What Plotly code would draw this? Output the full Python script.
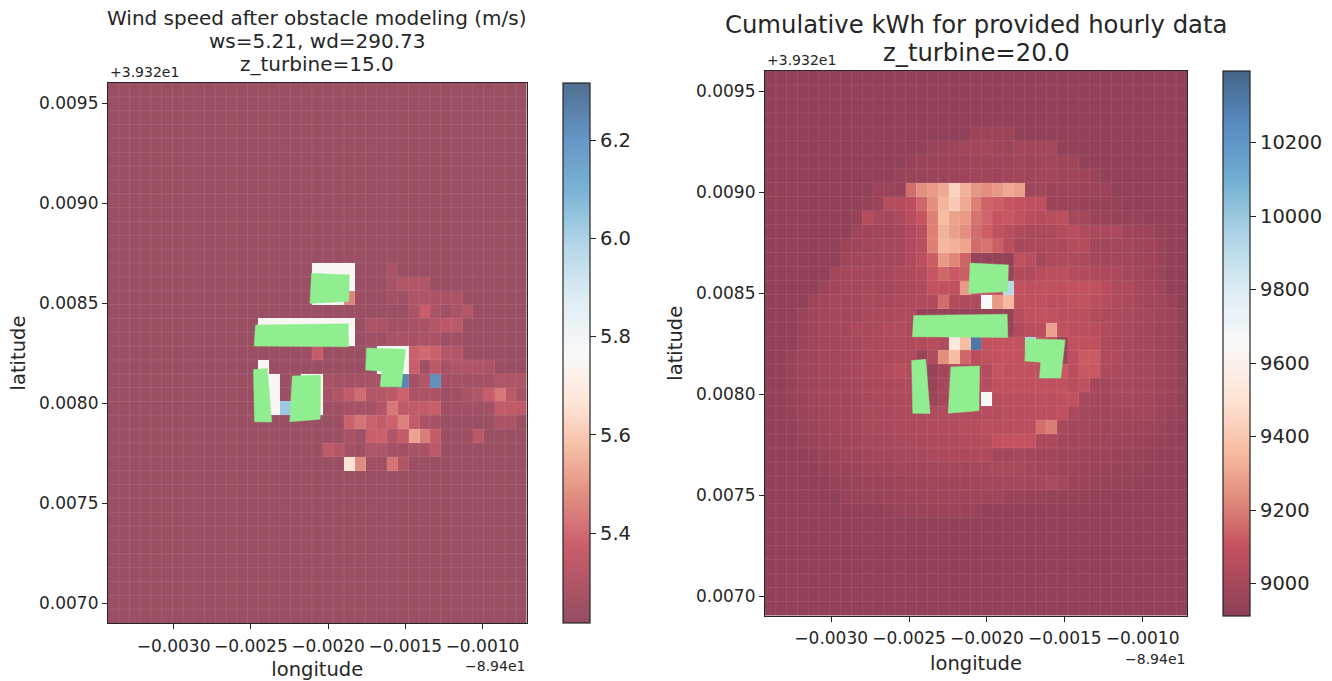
import numpy as np
import plotly.graph_objects as go

# ---- wind speed grid (m/s), row 0 = top of the map, 39 cells per row
LB = 5.235
WH = 5.75
wind_rows = [[LB]*39 for _ in range(13)] + [
    [LB]*19+[WH]*4+[LB]*3+[5.27]+[LB]*12,
    [LB]*19+[WH]*4+[LB]*3+[5.27,5.29,5.30,5.29]+[LB]*9,
    [LB]*19+[WH,WH,WH,5.46]+[LB]*3+[5.26,5.25,5.29,5.29,5.28,5.28,5.28]+[LB]*6,
    [LB]*28+[5.28,5.37,5.28,5.25,5.28,5.31]+[LB]*5,
    [LB]*14+[WH]*9+[LB]+[5.28,5.28,5.26,5.26,5.27,5.27,5.30,5.33,5.33]+[LB]*6,
    [LB]*14+[WH]*9+[LB]+[5.25,5.25,5.27,5.28,5.27,5.28,5.28,5.25,5.25]+[LB]*6,
    [LB]*19+[5.36]+[LB]*5+[WH]*3+[5.38,5.40,5.38,5.31,5.30]+[LB]*6,
    [LB]*14+[WH]+[LB]*10+[WH]*3+[5.37,5.25,5.33,5.27,5.29,5.29,5.29,5.28]+[LB]*3,
    [LB]*14+[WH,WH,LB,LB,WH,WH,5.27,5.26,5.26,5.27,5.27,5.27,5.26,6.25,5.26,5.30,6.22,5.26,5.26,5.26,5.26,5.26,5.29,5.29,5.29],
    [LB]*14+[WH,WH,LB,LB,WH,WH,5.27,5.30,5.35,5.40,5.30,5.31,5.33,5.38,5.28,5.28,5.28,5.25,5.25,5.28,5.30,5.37,5.43,5.33,5.27],
    [LB]*14+[WH,WH,6.03,LB,WH,WH,5.25,5.25,5.26,5.27,5.26,5.30,5.43,5.34,5.35,5.35,5.37,5.25,5.25,5.25,5.25,5.26,5.35,5.34,5.34],
    [LB]*22+[5.38,5.42,5.38,5.35,5.38,5.45,5.35,5.28,5.27]+[LB]*5+[5.28,5.28,LB],
    [LB]*22+[5.27,5.25,5.37,5.38,5.30,5.36,5.52,5.44,5.36]+[LB]*3+[5.33]+[LB]*4,
    [LB]*20+[5.34,5.31,5.26,5.25,5.29,5.29,5.26,5.26,5.27,5.27,5.33]+[LB]*8,
    [LB]*22+[5.66,5.47,5.25,5.25,5.42,5.30]+[LB]*11,
] + [[LB]*39 for _ in range(11)]

# ---- cumulative energy grid (kWh), row 0 = top of the map
RB = 8928
kwh_rows = [[RB]*39 for _ in range(4)] + [
    [RB]*19+[8965]*4+[RB]*16,
    [RB]*15+[8955,8955,8970,8975,8985,8990,8975,8965,8985,8985,8990,8990]+[RB]*12,
    [RB]*13+[8950,8955,8955,8960,8965,8970,8975,8970,8975,8970,8975,8970,8985,8975,8975,8975]+[RB]*10,
    [RB]*12+[8950,8955,8955,8960,8965,8965,8970,8970,8975,8970,8975,8985,8975,8985,8985,8975,8985,8970,8965]+[RB]*8,
    [RB]*10+[8960,8955,8950,9165,9240,9270,9310,9440,9330,9260,9240,9270,9310,9285,8975,8985,8965,8970,8970,8960,8965,8960]+[RB]*7,
    [RB]*9+[8945,8960,9050,9050,9075,9150,9240,9340,9405,9310,9210,9140,9130,9110,9095,9085,9085,8965,8960,8960,8950,8950,8945,8945]+[RB]*6,
    [RB]*8+[8945,9050,9010,9000,9015,9060,9110,9210,9355,9290,9270,9180,9150,9110,9120,9090,9060,9050,9060,9075,9000,8985,8960,8955,8950,8945,8940]+[RB]*4,
    [RB]*8+[8975,8975,8985,8985,9000,9030,9075,9210,9330,9285,9240,9165,9135,9090,9060,9030,9020,9015,9015,9045,9060,9030,9015,9015,9015,8975,8970,8965,8935,8935,8935],
    [RB]*7+[8965,8980,8980,8990,8995,8995,9030,9060,9210,9345,9330,9300,9165,9180,9135,9060,9000,9020,9015,9015,9020,9045,9050,8990,8990,8990,8985,8980,8970,8960,RB,RB],
    [RB]*7+[8980,8985,8985,8990,8995,9000,9030,9075,9130,9270,9220,9140,8940,8940,8940,8940,9080,9060,9000,9020,9030,9030,9020,9000,8990,8990,8985,8975,8970,8960,RB,RB],
    [RB]*6+[8985,9000,9005,9000,9000,9005,9015,9030,9045,9110,9150,9120,9130,9100,9100,9100,8950,9040,9030,9065,9070,9070,9045,9040,9030,9020,9015,9000,8990,8970,8965,RB,RB],
    [RB]*5+[8970,8985,9000,9000,9005,9005,9000,9010,9020,9030,9090,9095,9085,9265,9100,9100,9100,9920,9100,9080,9090,9085,9085,9100,9100,9090,9060,9030,9030,9000,8990,8975,RB,RB],
    [RB]*4+[8970,8985,8995,9000,9000,9005,9005,9010,9020,9030,9035,9040,9165,9040,9030,9030,9655,9270,9350,9080,9090,9090,9075,9075,9090,9090,9060,9050,9030,9020,9000,8985,8975,8960,RB],
    [RB]*3+[8960,8975,8990,8995,9000,9000,9005,9015,9020,9030,9030,8945,8945,8945,8945,8945,8945,8945,8945,8945,9060,9095,9100,9085,9075,9075,9070,9040,9030,9015,9010,9000,8990,8975,8965,8935],
    [RB]*3+[8960,8975,8990,8995,9000,9020,9010,9020,9040,9040,9020,9000,9000,9000,9000,9000,9000,9000,9000,8950,9030,9060,9060,9285,9090,9070,9075,9060,9040,9020,9010,9000,8985,8970,8965,8935],
    [RB]*3+[8965,8975,8985,8990,8995,9005,9015,9020,9025,9030,9030,9040,9050,9030,9536,9360,10320,9090,9105,9105,9100,9950,9100,9100,8950,9090,9080,9090,9035,9020,9010,9000,8990,8975,8965,8940],
    [RB]*2+[8950,8965,8975,8985,8990,8995,9005,9015,9020,9025,9030,9030,8950,9030,9240,9360,9150,9060,9090,9105,9105,9095,9090,9090,9090,8960,9070,9125,9125,9040,9030,9010,9000,8990,8975,8965,8940],
    [RB]*2+[8950,8965,8975,8985,8990,8995,9005,9015,9020,9045,9065,9040,9020,8950,8985,9030,9030,9030,9040,9110,9090,9090,9090,9090,9150,9120,9070,9120,9120,9030,9020,9010,9000,8990,8975,8965,8940],
    [RB]*2+[8950,8965,8975,8985,8990,8995,9005,9010,9020,9025,9030,9030,9030,8960,9000,9030,9030,9030,9050,9090,9085,9080,9090,9090,9085,9090,9060,9090,8995,8995,9010,9010,9000,8990,8975,8965,8940],
    [RB]*2+[8950,8960,8975,8985,8990,8990,8995,9005,9015,9020,9025,9030,9030,8965,9000,9030,9030,9030,9670,9060,9070,9070,9075,9080,9070,9085,9090,9000,9000,8990,9000,9005,9000,8985,8970,8960,8935],
    [RB]*2+[8945,8960,8970,8980,8985,8990,8995,9005,9010,9015,9025,9030,9030,9030,9035,9030,9035,9040,9055,9055,9060,9060,9065,9070,9075,9085,9020,8990,8990,8985,8985,8985,8985,8975,8965,8950,8935],
    [RB]*3+[8955,8965,8975,8985,8990,8995,9005,9010,9015,9020,9025,9030,9035,9040,9040,9050,9050,9060,9060,9060,9070,9075,9170,9200,9010,8990,8990,8985,8980,8980,8975,8970,8965,8955,8940,8930],
    [RB]*3+[8945,8955,8965,8975,8980,8990,8995,9000,9005,9010,9015,9020,9025,9030,9035,9040,9045,9050,9100,9105,9105,9105,9020,9020,8990,8985,8985,8980,8975,8970,8965,8960,8950,8945,8935,8930],
    [RB]*4+[8945,8955,8965,8975,8980,8985,8990,8995,9000,9005,9010,9015,9015,9020,9020,9025,9030,8990,8990,9000,9000,8985,8985,8980,8975,8970,8970,8965,8960,8955,8950,8945,8935,8930,8930],
    [RB]*5+[8945,8955,8960,8965,8970,8975,8980,8985,8985,8990,8990,8995,9000,9000,9000,9005,9010,9005,9005,9000,8990,8985,8975,8970,8965,8960,8955,8950,8945,8940,8935,8930,8930,8930],
    [RB]*6+[8945,8950,8955,8960,8960,8965,8970,8975,8975,8975,8980,8980,8985,8985,8990,8990,9000,9000,9000,9000,9015,9000,8965,8960,8955,8950,8945,8940,8935,8930,8930,8930,8930],
    [RB]*7+[8950,8955,8955,8960,8965,8965,8970,8970,8975,8975,8975,8980,8980,8980,8975,8960,8955,8950,8950,8945,8945,8940,8940,8935,8935]+[RB]*7,
    [RB]*11+[8945,8950,8950,8955,8955,8960,8960,8960,8955]+[RB]*19,
] + [[RB]*39 for _ in range(7)]

# ---- building footprints (longitude offset, latitude offset)
bldg_lon = [
    [-0.002107, -0.001862, -0.001866, -0.002117],
    [-0.002470, -0.001870, -0.001866, -0.002478],
    [-0.002483, -0.002393, -0.002365, -0.002476],
    [-0.002231, -0.002047, -0.002051, -0.002248],
    [-0.001750, -0.001498, -0.001526, -0.001662, -0.001654, -0.001756],
]
bldg_lat = [
    [0.008649, 0.008640, 0.008508, 0.008498],
    [0.008390, 0.008396, 0.008281, 0.008285],
    [0.008167, 0.008173, 0.007905, 0.007906],
    [0.008135, 0.008140, 0.007919, 0.007906],
    [0.008275, 0.008269, 0.008081, 0.008081, 0.008159, 0.008165],
]

lon_ticks = [-0.0030, -0.0025, -0.0020, -0.0015, -0.0010]
lon_labels = ["−0.0030", "−0.0025", "−0.0020", "−0.0015", "−0.0010"]
lat_ticks = [0.0070, 0.0075, 0.0080, 0.0085, 0.0090, 0.0095]
lat_labels = ["0.0070", "0.0075", "0.0080", "0.0085", "0.0090", "0.0095"]
wind_ticks = [5.4, 5.6, 5.8, 6.0, 6.2]
wind_tick_labels = ["5.4", "5.6", "5.8", "6.0", "6.2"]
kwh_ticks = [9000, 9200, 9400, 9600, 9800, 10000, 10200]
kwh_tick_labels = ["9000", "9200", "9400", "9600", "9800", "10000", "10200"]

LON_RANGE = [-0.003425, -0.000715]
LAT_RANGE_L = [0.00690, 0.00960]
LAT_RANGE_R = [0.006906, 0.009599]
WIND_RANGE = [5.217, 6.316]
KWH_RANGE = [8913, 10396]

FONT = "DejaVu Sans"
INK = "#262626"
W, H = 1332, 681

# RdBu seen through the map's transparency, over white
rdbu = ["#67001f", "#b2182b", "#d6604d", "#f4a582", "#fddbc7", "#f7f7f7",
        "#d1e5f0", "#92c5de", "#4393c3", "#2166ac", "#053061"]
def blend(h, a):
    c = [int(h[i:i+2], 16) for i in (1, 3, 5)]
    return "rgb(%d,%d,%d)" % tuple(round(a*v + (1-a)*255) for v in c)
def make_scale(a, stops):
    return [[s, blend(h, a)] for s, h in zip(stops, rdbu)]
scale_wind = make_scale(0.70, [0, .14, .24, .33, .41, .5, .6, .7, .8, .9, 1])
scale_kwh = make_scale(0.75, [0, .13, .21, .30, .40, .5, .6, .7, .8, .9, 1])

def panel(fig, rows, lat_range, zrange, scale, ticks, labels, xa, ya, cb_x, cb_y, cb_len):
    xe = np.linspace(LON_RANGE[0], LON_RANGE[1], 40)
    ye = np.linspace(lat_range[0], lat_range[1], 40)
    fig.add_trace(go.Heatmap(
        x=xe, y=ye, z=rows[::-1], zmin=zrange[0], zmax=zrange[1],
        colorscale=scale, xaxis=xa, yaxis=ya, hoverinfo="skip",
        colorbar=dict(x=cb_x, xanchor="left", xpad=0, y=cb_y, yanchor="bottom", ypad=0,
                      len=cb_len, lenmode="fraction", thickness=27, thicknessmode="pixels",
                      outlinecolor=INK, outlinewidth=1.2, ticks="outside", ticklen=6,
                      tickwidth=1, tickcolor=INK, tickvals=ticks, ticktext=labels,
                      tickfont=dict(family=FONT, size=19.5, color=INK))))
    gx, gy = [], []
    for v in xe[1:-1]:
        gx += [v, v, None]; gy += [ye[0], ye[-1], None]
    for v in ye[1:-1]:
        gx += [xe[0], xe[-1], None]; gy += [v, v, None]
    fig.add_trace(go.Scatter(x=gx, y=gy, mode="lines", xaxis=xa, yaxis=ya, hoverinfo="skip",
                             showlegend=False, line=dict(color="rgba(255,255,255,0.09)", width=1)))
    for lo, la in zip(bldg_lon, bldg_lat):
        fig.add_trace(go.Scatter(x=lo + lo[:1], y=la + la[:1], mode="lines", fill="toself",
                                 fillcolor="#90ee90", line=dict(color="#90ee90", width=0.5),
                                 xaxis=xa, yaxis=ya, hoverinfo="skip", showlegend=False))

fig = go.Figure()
panel(fig, wind_rows, LAT_RANGE_L, WIND_RANGE, scale_wind, wind_ticks, wind_tick_labels, "x", "y",
      562.5/W, (H-623)/H, 540/H)
panel(fig, kwh_rows, LAT_RANGE_R, KWH_RANGE, scale_kwh, kwh_ticks, kwh_tick_labels, "x2", "y2",
      1223/W, (H-615.5)/H, 544.5/H)

def xaxis(dom):
    return dict(domain=dom, range=LON_RANGE, tickvals=lon_ticks, ticktext=lon_labels,
                showgrid=False, zeroline=False, showline=True, mirror=True, linecolor=INK,
                linewidth=1.2, ticks="outside", ticklen=5, tickcolor=INK, tickwidth=1,
                ticklabelstandoff=2,
                tickfont=dict(family=FONT, size=17, color=INK),
                title=dict(text="longitude", standoff=9, font=dict(family=FONT, size=19.5, color=INK)))
def yaxis(dom, rng, anchor):
    return dict(domain=dom, range=rng, anchor=anchor, tickvals=lat_ticks, ticktext=lat_labels,
                showgrid=False, zeroline=False, showline=True, mirror=True, linecolor=INK,
                linewidth=1.2, ticks="outside", ticklen=5, tickcolor=INK, tickwidth=1,
                tickfont=dict(family=FONT, size=17, color=INK),
                title=dict(text="latitude", standoff=8, font=dict(family=FONT, size=19.5, color=INK)))

def note(text, x, y, size, anchor="center"):
    return dict(text=text, x=x/W, y=1-y/H, xref="paper", yref="paper", showarrow=False,
                xanchor=anchor, yanchor="middle", align="center",
                font=dict(family=FONT, size=size, color=INK))

fig.update_layout(
    width=W, height=H, autosize=False, margin=dict(l=0, r=0, t=0, b=0),
    paper_bgcolor="white", plot_bgcolor="white", showlegend=False,
    xaxis=xaxis([108/W, 526.5/W]),
    yaxis=yaxis([(H-623)/H, (H-83)/H], LAT_RANGE_L, "x"),
    xaxis2=xaxis([765/W, 1187/W]) | dict(anchor="y2"),
    yaxis2=yaxis([(H-615.5)/H, (H-71)/H], LAT_RANGE_R, "x2"),
    annotations=[
        note("Wind speed after obstacle modeling (m/s)", 317, 18, 20),
        note("ws=5.21, wd=290.73", 317, 41, 20),
        note("z_turbine=15.0", 317, 64, 20),
        note("Cumulative kWh for provided hourly data", 976, 24, 24.3),
        note("z_turbine=20.0", 976, 52, 24.3),
        note("+3.932e1", 108, 72, 14, "left"),
        note("+3.932e1", 765, 60, 14, "left"),
        note("−8.94e1", 527, 666, 14, "right"),
        note("−8.94e1", 1187, 659, 14, "right"),
    ],
)
fig.write_html("out.html", config={"displayModeBar": False},
               post_script="document.body.style.margin='0';document.body.style.overflow='hidden';")
